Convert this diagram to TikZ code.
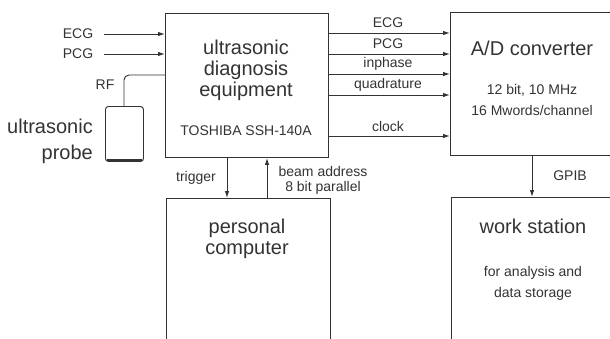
\documentclass[tikz,border=0pt]{standalone}
\usepackage{fontspec}
\setmainfont{Liberation Sans}
\usetikzlibrary{arrows.meta,calc}
\definecolor{ink}{HTML}{333333}
\tikzset{
  x=1pt,y=-1pt,
  box/.style={draw=ink,line width=0.95pt,inner sep=0,anchor=north west},
  link/.style={draw=ink,line width=0.95pt},
  arr/.style={link,-{Latex[length=7pt,width=4.5pt]}},
  big/.style={text=ink,align=center,inner sep=0,font=\fontsize{20}{21}\selectfont},
  small/.style={text=ink,align=center,inner sep=0,font=\fontsize{14}{21}\selectfont},
  label/.style={text=ink,align=center,inner sep=0,font=\fontsize{14}{15}\selectfont},
}
\begin{document}
\begin{tikzpicture}
\useasboundingbox (0,0) rectangle (610,338);
\clip (0,0) rectangle (610,338);
% boxes
\node[box,minimum width=163pt,minimum height=144pt] (eq) at (165,13) {};
\node[box,minimum width=180pt,minimum height=143pt] (ad) at (450,12) {};
\node[box,minimum width=164pt,minimum height=160pt] (pc) at (166,198) {};
\node[box,minimum width=180pt,minimum height=160pt] (ws) at (451,197) {};
\node[box,rounded corners=3pt,minimum width=38pt,minimum height=55pt] (probe) at (105,106) {};
% box text
\node[big] (eqt) at (246,70) {ultrasonic\\diagnosis\\equipment};
\node[label] (tosh) at (246,131) {TOSHIBA SSH-140A};
\node[big] (adt) at (532,48) {A/D converter};
\node[small] (adn) at (532,99.5) {12 bit, 10 MHz\\16 Mwords/channel};
\node[big] (pct) at (247,239) {personal\\computer};
\node[big] (wst) at (533,226) {work station};
\node[small] (wsn) at (533,283.5) {for analysis and\\data storage};
\node[big,align=right,anchor=east,font=\fontsize{20}{26}\selectfont] (prt) at (93,141) {ultrasonic\\probe};
% free ends and levels
\coordinate (inA) at (104,34);
\coordinate (inB) at (104,54);
\coordinate (lA) at (0,33);
\coordinate (lB) at (0,54);
\coordinate (lC) at (0,74);
\coordinate (lD) at (0,95);
\coordinate (lE) at (0,136);
\coordinate (xT) at (227,0);
\coordinate (xB) at (267,0);
\coordinate (xG) at (532,0);
\coordinate (rfy) at (0,75);
\coordinate (rfx) at (124,0);
% connectors
\draw[arr] (inA) -- (eq.west |- inA);
\draw[arr] (inB) -- (eq.west |- inB);
\draw[link,rounded corners=5pt] (eq.west |- rfy) -- (rfx |- rfy) -- (rfx |- probe.north);
\draw[arr] (eq.east |- lA) -- (ad.west |- lA);
\draw[arr] (eq.east |- lB) -- (ad.west |- lB);
\draw[arr] (eq.east |- lC) -- (ad.west |- lC);
\draw[arr] (eq.east |- lD) -- (ad.west |- lD);
\draw[arr] (eq.east |- lE) -- (ad.west |- lE);
\draw[arr] (xT |- eq.south) -- (xT |- pc.north);
\draw[arr] (xB |- pc.north) -- (xB |- eq.south);
\draw[arr] (xG |- ad.south) -- (xG |- ws.north);
\draw[link,line width=1.3pt] ($(probe.south west)+(2,-2)$) -- ($(probe.south east)+(-2,-2)$);
% labels
\node[label] (tA) at (78,34) {ECG};
\node[label] (tB) at (78,54) {PCG};
\node[label] (tRF) at (105,85) {RF};
\node[label] (t1) at (388,23) {ECG};
\node[label] (t2) at (388,44) {PCG};
\node[label] (t3) at (388,64) {inphase};
\node[label] (t4) at (388,85) {quadrature};
\node[label] (t5) at (388,126) {clock};
\node[label] (t6) at (196,178) {trigger};
\node[label] (t7) at (323,180) {beam address\\8 bit parallel};
\node[label] (t8) at (570,176) {GPIB};
\end{tikzpicture}
\end{document}
